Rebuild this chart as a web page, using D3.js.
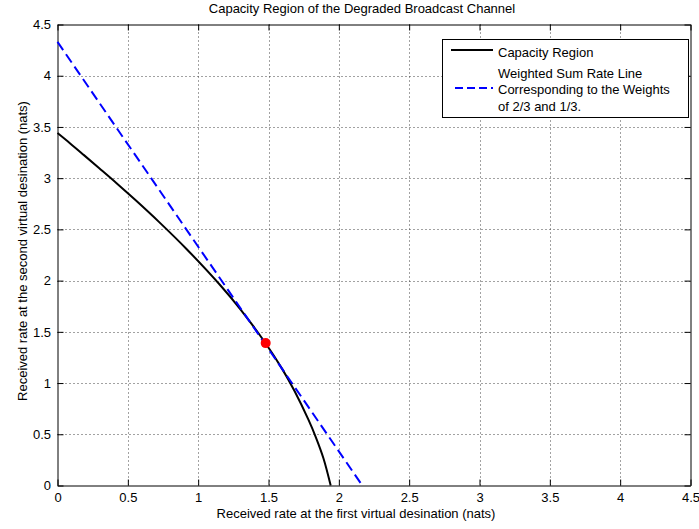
<!DOCTYPE html>
<html>
<head>
<meta charset="utf-8">
<script src="https://cdn.jsdelivr.net/npm/d3@7"></script>
<style>
  body { margin: 0; background: #fff; }
  svg { display: block; }
  text { font-family: "Liberation Sans", Arial, sans-serif; font-size: 13px; fill: #000; }
</style>
</head>
<body>
<svg id="chart" width="699" height="529"></svg>
<script>
// capacity region boundary
const capR1 = [0, 0.090, 0.188, 0.297, 0.420, 0.560, 0.723, 0.917, 1.159, 1.306, 1.478, 1.598, 1.686, 1.783, 1.836, 1.891, 1.942];
const capR2 = [3.440, 3.339, 3.225, 3.097, 2.951, 2.779, 2.571, 2.309, 1.952, 1.710, 1.391, 1.136, 0.920, 0.645, 0.473, 0.264, 0];

// weighted sum rate line (weights 2/3, 1/3)
const wsrR1 = [0, 2.167];
const wsrR2 = [4.33, 0];

// tangent point
const optR1 = [1.48];
const optR2 = [1.39];

const ticks = [0, 0.5, 1, 1.5, 2, 2.5, 3, 3.5, 4, 4.5];
const tickLabels = ["0", "0.5", "1", "1.5", "2", "2.5", "3", "3.5", "4", "4.5"];

const legendLabels = [
    ["Capacity Region"],
    ["Weighted Sum Rate Line", "Corresponding to the Weights", "of 2/3 and 1/3."]
];

const svg = d3.select('#chart');

const padL = 57.5, padR = 690.5, padT = 24.5, padB = 485.5;

const x = d3.scaleLinear().domain([0, 4.5]).range([padL, padR]);
const y = d3.scaleLinear().domain([0, 4.5]).range([padB, padT]);

// grid
const grid = svg.append('g');
grid.selectAll('line.gx')
    .data(ticks.slice(1, -1))
    .enter()
    .append('line')
    .attr('x1', d => Math.round(x(d)) + 0.5)
    .attr('x2', d => Math.round(x(d)) + 0.5)
    .attr('y1', padT)
    .attr('y2', padB)
    .attr('stroke', '#444')
    .attr('stroke-dasharray', '1,3');
grid.selectAll('line.gy')
    .data(ticks.slice(1, -1))
    .enter()
    .append('line')
    .attr('y1', d => Math.round(y(d)) + 0.5)
    .attr('y2', d => Math.round(y(d)) + 0.5)
    .attr('x1', padL)
    .attr('x2', padR)
    .attr('stroke', '#444')
    .attr('stroke-dasharray', '1,3');

// axes, ticks inward on all four sides
const xAxisB = d3.axisBottom(x).tickValues(ticks).tickSizeInner(-6).tickSizeOuter(0).tickPadding(7)
    .tickFormat((d, i) => tickLabels[i]);
const xAxisT = d3.axisTop(x).tickValues(ticks).tickSizeInner(-6).tickSizeOuter(0).tickFormat('');
const yAxisL = d3.axisLeft(y).tickValues(ticks).tickSizeInner(-6).tickSizeOuter(0).tickPadding(6.5)
    .tickFormat((d, i) => tickLabels[i]);
const yAxisR = d3.axisRight(y).tickValues(ticks).tickSizeInner(-6).tickSizeOuter(0).tickFormat('');

function styleAxis(g) {
    g.selectAll('path, line').attr('stroke', '#000');
    g.selectAll('text').attr('font-family', null).attr('font-size', null);
}

svg.append('g').attr('transform', `translate(0,${padB})`).call(xAxisB).call(styleAxis);
svg.append('g').attr('transform', `translate(0,${padT})`).call(xAxisT).call(styleAxis);
svg.append('g').attr('transform', `translate(${padL},0)`).call(yAxisL).call(styleAxis);
svg.append('g').attr('transform', `translate(${padR},0)`).call(yAxisR).call(styleAxis);

// capacity curve
const capData = capR1.map((r, i) => [r, capR2[i]]);
svg.append('path')
    .datum(capData)
    .attr('fill', 'none')
    .attr('stroke', '#000')
    .attr('stroke-width', 2)
    .attr('d', d3.line().x(d => x(d[0])).y(d => y(d[1])).curve(d3.curveCatmullRom.alpha(0.5)));

// weighted sum rate line
const wsrData = wsrR1.map((r, i) => [r, wsrR2[i]]);
svg.append('path')
    .datum(wsrData)
    .attr('fill', 'none')
    .attr('stroke', '#0000ff')
    .attr('stroke-width', 2)
    .attr('stroke-dasharray', '10,5')
    .attr('d', d3.line().x(d => x(d[0])).y(d => y(d[1])));

// optimal point
svg.selectAll('circle.opt')
    .data(optR1.map((r, i) => [r, optR2[i]]))
    .enter()
    .append('circle')
    .attr('cx', d => x(d[0]))
    .attr('cy', d => y(d[1]))
    .attr('r', 5)
    .attr('fill', '#ff0000');

// legend
const lg = svg.append('g');
lg.append('rect')
    .attr('x', 442.5).attr('y', 39.5)
    .attr('width', 246).attr('height', 78)
    .attr('fill', '#fff').attr('stroke', '#000');
lg.append('line')
    .attr('x1', 451).attr('x2', 493).attr('y1', 50).attr('y2', 50)
    .attr('stroke', '#000').attr('stroke-width', 2);
lg.append('line')
    .attr('x1', 455).attr('x2', 493).attr('y1', 88).attr('y2', 88)
    .attr('stroke', '#0000ff').attr('stroke-width', 2).attr('stroke-dasharray', '8,4');
const legendBase = [[57], [77.5, 94.3, 110.7]];
legendLabels.forEach((lines, k) => {
    lines.forEach((t, j) => {
        lg.append('text').attr('x', 498).attr('y', legendBase[k][j]).text(t);
    });
});

// titles
svg.append('text')
    .attr('x', 362).attr('y', 13)
    .attr('text-anchor', 'middle')
    .text('Capacity Region of the Degraded Broadcast Channel');
svg.append('text')
    .attr('x', 356).attr('y', 518)
    .attr('text-anchor', 'middle')
    .text('Received rate at the first virtual desination (nats)');
svg.append('text')
    .attr('transform', 'translate(27,251) rotate(-90)')
    .attr('text-anchor', 'middle')
    .text('Received rate at the second virtual desination (nats)');
</script>
</body>
</html>
